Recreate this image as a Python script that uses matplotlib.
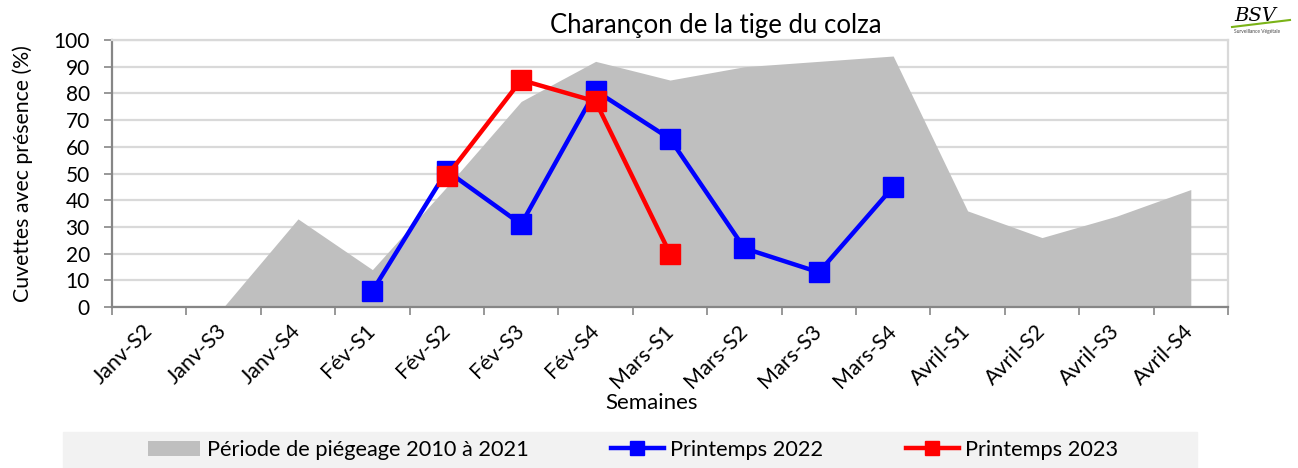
import numpy as np
import matplotlib
matplotlib.use("Agg")
import matplotlib.pyplot as plt
from matplotlib.patches import Patch
from matplotlib.lines import Line2D

plt.rcParams['font.family'] = ['Lato', 'DejaVu Sans']

semaines = ["Janv-S2", "Janv-S3", "Janv-S4", "Fév-S1", "Fév-S2", "Fév-S3", "Fév-S4",
            "Mars-S1", "Mars-S2", "Mars-S3", "Mars-S4", "Avril-S1", "Avril-S2",
            "Avril-S3", "Avril-S4"]
periode_2010_2021 = [np.nan, 0, 33, 14, 45, 77, 92, 85, 90, 92, 94, 36, 26, 34, 44]
printemps_2022 = [np.nan, np.nan, np.nan, 6, 51, 31, 81, 63, 22, 13, 45, np.nan, np.nan, np.nan, np.nan]
printemps_2023 = [np.nan, np.nan, np.nan, np.nan, 49, 85, 77, 20, np.nan, np.nan, np.nan, np.nan, np.nan, np.nan, np.nan]

W, H = 1298, 468
fig = plt.figure(figsize=(W / 100, H / 100), dpi=100)
ax = fig.add_axes([112 / W, 1 - 307 / H, (1228 - 112) / W, (307 - 40) / H])

x = np.arange(len(semaines))
area = np.array(periode_2010_2021, dtype=float)
ok = ~np.isnan(area)
ax.fill_between(x[ok], 0, area[ok], color="#bfbfbf", lw=0, zorder=2)
ax.plot(x, printemps_2022, color="#0000ff", lw=3.2, marker="s", ms=14, zorder=4)
ax.plot(x, printemps_2023, color="#ff0000", lw=3.2, marker="s", ms=14, zorder=5)

ax.set_xlim(-0.5, len(semaines) - 0.5)
ax.set_ylim(0, 100)
ax.set_yticks(range(0, 101, 10))
ax.yaxis.grid(True, color="#d9d9d9", lw=1.6, zorder=0)
ax.set_axisbelow(True)

ax.set_xticks(x)
ax.set_xticklabels(semaines, rotation=45, ha="right", va="center",
                   rotation_mode="anchor", fontsize=15.5)
ax.tick_params(axis="x", which="major", length=0, pad=15)
ax.set_xticks(np.arange(-0.5, len(semaines)), minor=True)
ax.tick_params(axis="x", which="minor", length=6, width=1.2, color="#868686")
ax.tick_params(axis="y", length=6, width=1.2, color="#868686", labelsize=15, pad=10)

for s in ["left", "bottom"]:
    ax.spines[s].set_color("#868686")
    ax.spines[s].set_linewidth(1.6)
for s in ["right", "top"]:
    ax.spines[s].set_color("#d9d9d9")
    ax.spines[s].set_linewidth(1.6)

ax.set_ylabel("Cuvettes avec présence (%)", fontsize=15.3, labelpad=15)
fig.text(652 / W, 1 - 403 / H, "Semaines", ha="center", va="center", fontsize=16)
fig.text(716 / W, 1 - 25 / H, "Charançon de la tige du colza", ha="center",
         va="center", fontsize=18.5)

# petit logo BSV
fig.text(1255 / W, 1 - 16 / H, "BSV", ha="center", va="center", fontsize=14,
         style="italic", family="DejaVu Serif")
fig.add_artist(Line2D([1232 / W, 1290 / W], [1 - 27 / H, 1 - 20 / H],
                      color="#7ab317", lw=1.5))
fig.text(1257 / W, 1 - 31 / H, "Surveillance Végétale", ha="center", va="center",
         fontsize=3.5, color="#444444")

# legende
fig.add_artist(plt.Rectangle((63 / W, 0), (1197 - 63) / W, 36 / H,
                             transform=fig.transFigure, color="#f2f2f2", zorder=0))
handles = [
    Patch(facecolor="#bfbfbf", edgecolor="none"),
    Line2D([], [], color="#0000ff", lw=3.2, marker="s", ms=10),
    Line2D([], [], color="#ff0000", lw=3.2, marker="s", ms=10),
]
labels = ["Période de piégeage 2010 à 2021", "Printemps 2022", "Printemps 2023"]
fig.legend(handles, labels, loc="center", bbox_to_anchor=(633 / W, 1 - 450 / H),
           ncol=3, frameon=False, fontsize=15.7, handlelength=2.4,
           handletextpad=0.3, columnspacing=3.8)

fig.savefig("out.png", dpi=100)
